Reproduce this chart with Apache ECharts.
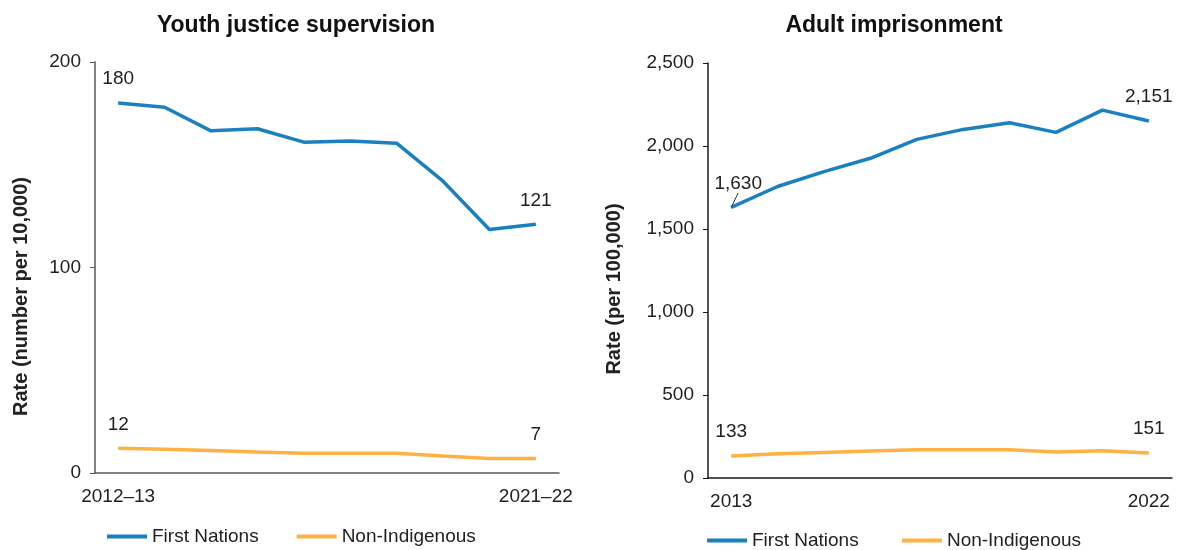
<!DOCTYPE html>
<html>
<head>
<meta charset="utf-8">
<script src="https://cdn.jsdelivr.net/npm/echarts@6/dist/echarts.min.js"></script>
<style>
  html, body { margin: 0; padding: 0; background: #fff; }
  #chart { width: 1180px; height: 550px; }
</style>
</head>
<body>
<div id="chart"></div>
<script>
// youth justice (rate per 10,000)
const youthYears = ['2012–13', '2013–14', '2014–15', '2015–16', '2016–17', '2017–18', '2018–19', '2019–20', '2020–21', '2021–22']
const youthFirstNations = [180, 178, 166.5, 167.5, 161, 161.5, 160.5, 142, 118.5, 121]
const youthNonIndigenous = [12, 11.5, 10.9, 10.2, 9.6, 9.6, 9.6, 8.3, 7.1, 7]
const youthTicks = { min: 0, max: 200, interval: 100 }

// adult imprisonment (rate per 100,000)
const adultYears = ['2013', '2014', '2015', '2016', '2017', '2018', '2019', '2020', '2021', '2022']
const adultFirstNations = [1630, 1756, 1846, 1926, 2040, 2100, 2140, 2082, 2216, 2151]
const adultNonIndigenous = [133, 146, 154, 162, 170, 170, 170, 156, 164, 151]
const adultTicks = { min: 0, max: 2500, interval: 500 }

const BLUE = '#1a80c0'
const ORANGE = '#fdb143'
const FONT = "'Liberation Sans', Arial, sans-serif"
const TEXT = '#222'

const fmt = (v) => String(Math.round(v)).replace(/\B(?=(\d{3})+(?!\d))/g, ',')

// only first and last points get a value label
const endLabels = (list, shown, leaderFirst) => list.map((v, i) => {
    if (i === 0 || i === list.length - 1) {
        const item = { value: v, label: { show: true, formatter: fmt(shown[i === 0 ? 0 : 1]) } }
        if (leaderFirst && i === 0) {
            item.labelLine = { show: true, lineStyle: { color: '#333', width: 1 } }
        }
        return item
    }
    return v
})

const chart = echarts.init(document.getElementById('chart'))

const catAxis = (gridIndex, data, lineColor) => ({
    type: 'category',
    gridIndex,
    data,
    boundaryGap: true,
    axisLine: { lineStyle: { color: lineColor, width: 1.5 } },
    axisTick: { show: false },
    axisLabel: {
        interval: (i) => i === 0 || i === data.length - 1,
        margin: 14,
        color: TEXT,
        fontSize: 19,
        fontFamily: FONT,
    },
})

const valAxis = (gridIndex, ticks, name, nameGap, namePad, lineColor) => ({
    type: 'value',
    gridIndex,
    min: ticks.min,
    max: ticks.max,
    interval: ticks.interval,
    name,
    nameLocation: 'middle',
    nameGap,
    nameTextStyle: {
        fontSize: 20,
        fontWeight: 'bold',
        fontFamily: FONT,
        color: TEXT,
        padding: [0, namePad, 0, 0],
    },
    axisLine: { show: true, lineStyle: { color: lineColor, width: 1.5 } },
    axisTick: { show: true, length: 5, lineStyle: { color: lineColor } },
    splitLine: { show: false },
    axisLabel: {
        margin: 14,
        color: TEXT,
        fontSize: 19,
        fontFamily: FONT,
        formatter: (v) => fmt(v),
    },
})

const lineSeries = (name, idx, data, color, extra) => Object.assign({
    name,
    type: 'line',
    xAxisIndex: idx,
    yAxisIndex: idx,
    data,
    color,
    // tiny symbol so the end labels still render
    symbol: 'circle',
    symbolSize: 1,
    showSymbol: true,
    itemStyle: { color },
    lineStyle: { width: 3.5, color },
    label: {
        show: false,
        position: 'top',
        distance: 14,
        color: TEXT,
        fontSize: 19,
        fontFamily: FONT,
    },
    emphasis: { disabled: true },
}, extra || {})

const legendStyle = (left, top) => ({
    left,
    top,
    padding: 0,
    icon: 'rect',
    itemWidth: 40,
    itemHeight: 4,
    itemGap: 38,
    textStyle: { fontSize: 19, fontFamily: FONT, color: TEXT },
})

const option = {
    animation: false,
    title: [
        {
            text: 'Youth justice supervision',
            left: 291,
            top: 9,
            textAlign: 'center',
            textStyle: { fontSize: 23, fontWeight: 'bold', fontFamily: FONT, color: '#111' },
        },
        {
            text: 'Adult imprisonment',
            left: 889,
            top: 9,
            textAlign: 'center',
            textStyle: { fontSize: 23, fontWeight: 'bold', fontFamily: FONT, color: '#111' },
        },
    ],
    legend: [
        Object.assign(legendStyle(107, 527), { data: ['First Nations', 'Non-Indigenous'] }),
        Object.assign(legendStyle(707, 531), { data: ['First Nations ', 'Non-Indigenous '] }),
    ],
    grid: [
        { left: 95, right: 621, top: 62, bottom: 77 },
        { left: 708, right: 8, top: 63, bottom: 72 },
    ],
    xAxis: [
        catAxis(0, youthYears, '#595959'),
        catAxis(1, adultYears, '#1a1a1a'),
    ],
    yAxis: [
        valAxis(0, youthTicks, 'Rate (number per 10,000)', 64, 58, '#595959'),
        valAxis(1, adultTicks, 'Rate (per 100,000)', 84, 37, '#1a1a1a'),
    ],
    series: [
        lineSeries('First Nations', 0, endLabels(youthFirstNations, [180, 121]), BLUE),
        lineSeries('Non-Indigenous', 0, endLabels(youthNonIndigenous, [12, 7]), ORANGE),
        lineSeries('First Nations ', 1, endLabels(adultFirstNations, [1630, 2151], true), BLUE, {
            labelLayout: (params) => (params.dataIndex === 0 ? { dx: 7 } : {}),
        }),
        lineSeries('Non-Indigenous ', 1, endLabels(adultNonIndigenous, [133, 151]), ORANGE),
    ],
}

chart.setOption(option)
</script>
</body>
</html>
